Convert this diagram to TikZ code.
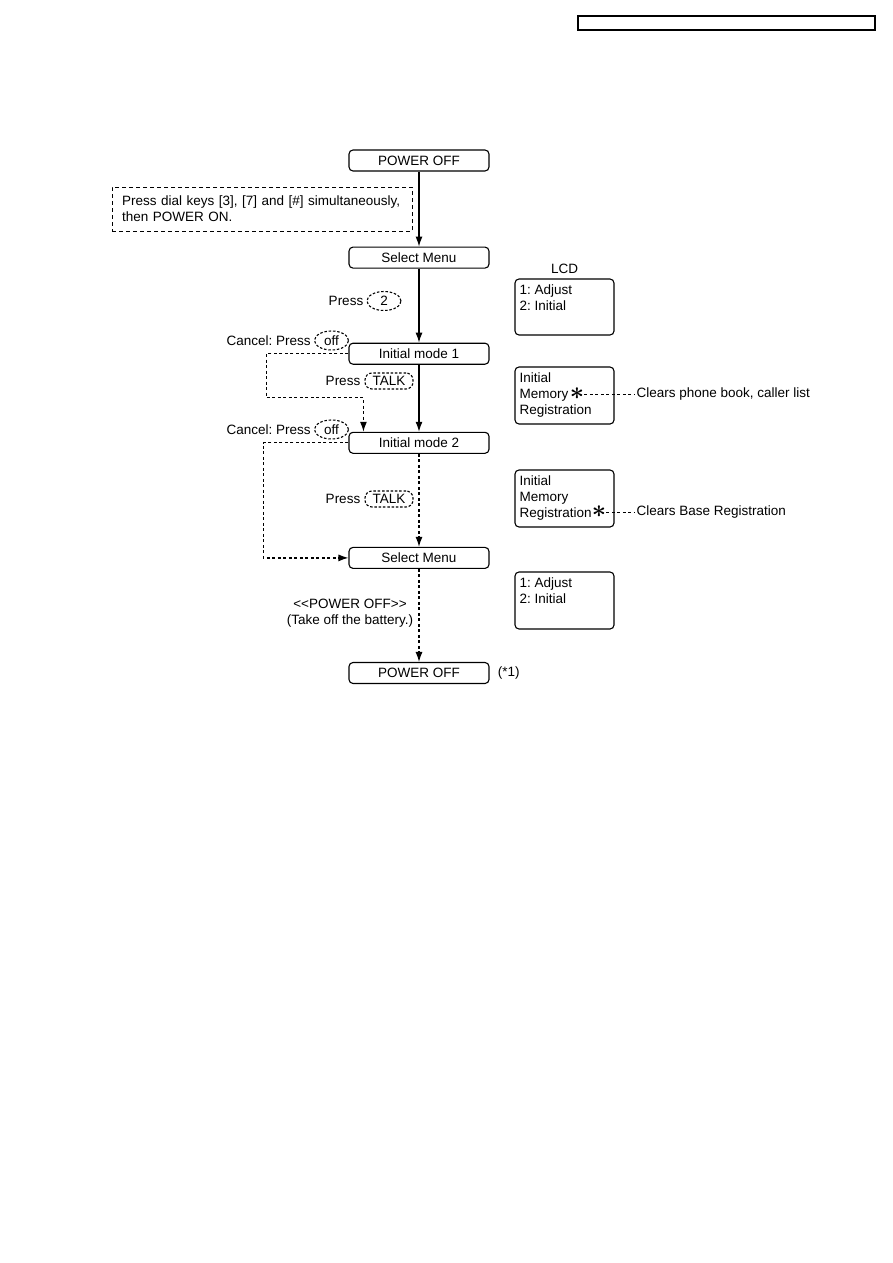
\documentclass[tikz,border=0pt]{standalone}
\usepackage{fontspec}
\setmainfont{Liberation Sans}
\usetikzlibrary{arrows.meta,positioning,calc,shapes.geometric}
\frenchspacing

\begin{document}
\begin{tikzpicture}[x=1pt, y=-1pt,
    font=\fontsize{13.5}{16}\selectfont,
    every node/.style={inner sep=1pt},
    flowbox/.style={rectangle, draw, line width=1.1pt, rounded corners=4pt, minimum width=140pt, minimum height=21pt, inner sep=0pt},
    lcd/.style={rectangle, draw, line width=1.1pt, rounded corners=4pt, minimum width=99pt, inner sep=0pt},
    lcdtext/.style={anchor=north west, align=left, inner sep=0pt},
    note/.style={rectangle, draw, line width=1pt, dash pattern=on 4pt off 3pt, align=left, text width=280pt, inner xsep=10pt, minimum height=44pt},
    keyoval/.style={ellipse, draw, line width=1.1pt, dash pattern=on 2.5pt off 1.8pt, inner sep=0pt, minimum width=34pt, minimum height=19pt},
    keytalk/.style={rectangle, draw, line width=1.1pt, dash pattern=on 2.5pt off 1.8pt, rounded corners=7pt, inner sep=0pt, minimum width=48pt, minimum height=16pt},
    starmark/.style={inner sep=0pt, font=\fontsize{24}{24}\selectfont\boldmath},
    arrow/.style={draw, line width=1.2pt, -{Latex[length=10pt,width=7pt]}},
    dasharrow/.style={draw, line width=1.2pt, dash pattern=on 3pt off 2.5pt, -{Latex[length=10pt,width=7pt]}},
    leader/.style={draw, line width=1pt, dash pattern=on 3pt off 2.5pt}
]
    \useasboundingbox (0,0) rectangle (893,1263);

    % Header
    \node[draw, line width=1.2pt, minimum width=297pt, minimum height=14pt, inner sep=0pt] (header) at (726.5,23) {};

    % Flow
    \node[flowbox] (off1) at (419,160.5) {POWER OFF};
    \node[flowbox, below=75pt of off1] (menu1) {Select Menu};
    \node[flowbox, below=74pt of menu1] (mode1) {Initial mode 1};
    \node[flowbox, below=67pt of mode1] (mode2) {Initial mode 2};
    \node[flowbox, below=93pt of mode2] (menu2) {Select Menu};
    \node[flowbox, below=93pt of menu2] (off2) {POWER OFF};
    \node[right=7pt of off2] (fn1) {(*1)};

    % Power on note
    \node[note] (dialnote) at (262,209) {Press dial keys [3], [7] and [\#] simultaneously,\\then POWER ON.};

    % Keys
    \node[keyoval] (key2) at (384,301) {2};
    \node[left=2pt of key2] (press1) {Press};
    \node[keyoval] (off3) at (331.5,340.5) {off};
    \node[left=2pt of off3] (cancel1) {Cancel: Press};
    \node[keytalk] (talk1) at (389,381) {TALK};
    \node[left=3pt of talk1] (press2) {Press};
    \node[keyoval] (off4) at (331.5,429.5) {off};
    \node[left=2pt of off4] (cancel2) {Cancel: Press};
    \node[keytalk] (talk2) at (389,499) {TALK};
    \node[left=3pt of talk2] (press3) {Press};
    \node[align=center] (pwrnote) at (350,613) {<{}<POWER OFF>{}>\\(Take off the battery.)};

    % LCD
    \node[lcd, minimum height=56pt] (lcd1) at (564.5,307) {};
    \node[above=4pt of lcd1] (lcdlabel) {LCD};
    \node[lcdtext] (lcd1txt) at ($(lcd1.north west)+(5,6)$) {1: Adjust\\2: Initial};
    \node[lcd, minimum height=57pt] (lcd2) at (564.5,395.5) {};
    \node[lcdtext] (lcd2txt) at ($(lcd2.north west)+(5,6)$) {Initial\\Memory\\Registration};
    \node[lcd, minimum height=57pt] (lcd3) at (564.5,498.5) {};
    \node[lcdtext] (lcd3txt) at ($(lcd3.north west)+(5,6)$) {Initial\\Memory\\Registration};
    \node[lcd, minimum height=57pt] (lcd4) at (564.5,600.5) {};
    \node[lcdtext] (lcd4txt) at ($(lcd4.north west)+(5,6)$) {1: Adjust\\2: Initial};

    % Marks
    \node[starmark] (star1) at (577,394) {$\ast$};
    \node[right=51pt of star1] (clear1) {Clears phone book, caller list};
    \node[starmark] (star2) at (599,512) {$\ast$};
    \node[right=29pt of star2] (clear2) {Clears Base Registration};

    % Connections
    \draw[arrow] (off1) -- (menu1);
    \draw[arrow] (menu1) -- (mode1);
    \draw[arrow] (mode1) -- (mode2);
    \draw[dasharrow] (mode2) -- (menu2);
    \draw[dasharrow] (menu2) -- (off2);

    \draw[dasharrow] (mode1.west) -- ++(-82,0) -- ++(0,44) -| ($(mode2.north west)+(15,0)$);
    \draw[dasharrow] (mode2.west) -- ++(-85,0) |- (menu2.west);

    \draw[leader] (star1) -- (clear1);
    \draw[leader] (star2) -- (clear2);

\end{tikzpicture}
\end{document}
